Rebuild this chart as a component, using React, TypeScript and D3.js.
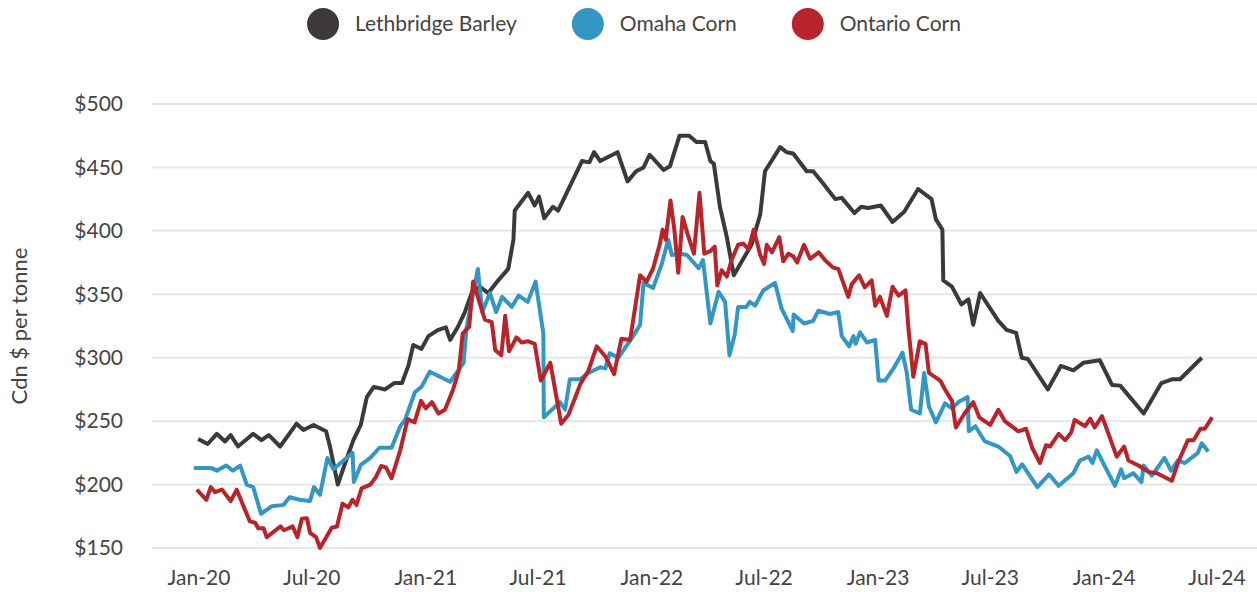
import { scaleLinear, scaleUtc, line, utcMonth, utcFormat } from "d3"

// week offsets from 1 Jan 2020, Cdn $ per tonne
const lethbridgeBarley: [number, number][] = [
  [-0.2, 236], [2.0, 232], [4.1, 240], [6.0, 234], [7.3, 239], [9.0, 230], [12.5, 240],
  [14.4, 235], [16.1, 239], [18.7, 230], [22.5, 248], [24.1, 243], [26.4, 247], [29.3, 242],
  [30.2, 230], [32.0, 200], [33.7, 217], [35.6, 235], [37.3, 247], [38.7, 269], [40.3, 277],
  [42.9, 275], [45.0, 280], [46.8, 280], [48.3, 294], [49.4, 310], [51.3, 307], [52.9, 317],
  [55.2, 322], [56.9, 324], [57.9, 314], [59.8, 325], [61.3, 336], [63.0, 352], [64.7, 356],
  [66.7, 351], [69.0, 361], [71.3, 370], [72.5, 393], [72.8, 416], [75.9, 430], [77.4, 420],
  [78.4, 427], [79.6, 410], [81.6, 419], [82.8, 416], [85.5, 435], [88.3, 455], [90.0, 454],
  [91.1, 462], [92.5, 455], [96.5, 462], [98.8, 439], [100.8, 447], [102.5, 450], [103.9, 460],
  [107.1, 448], [108.6, 451], [110.8, 475], [113.0, 475], [114.7, 470], [116.7, 470],
  [117.9, 455], [118.7, 453], [120.1, 419], [121.7, 395], [123.3, 365], [125.5, 378],
  [127.4, 389], [129.4, 413], [130.5, 447], [134.0, 466], [135.5, 462], [137.0, 461],
  [140.1, 447], [141.6, 447], [144.0, 437], [146.7, 425], [148.2, 426], [151.1, 414],
  [152.7, 419], [154.3, 418], [157.2, 420], [159.9, 407], [162.6, 415], [165.8, 433],
  [168.9, 425], [169.9, 409], [171.4, 401], [171.6, 361], [173.6, 356], [175.8, 342],
  [177.4, 346], [178.5, 326], [180.1, 351], [184.3, 329], [186.2, 322], [188.4, 319.5],
  [189.7, 300], [191.1, 299], [195.7, 275], [198.7, 293.5], [201.6, 290], [203.9, 296],
  [207.7, 298], [210.5, 278.5], [212.4, 278], [217.8, 256], [221.9, 280], [224.3, 283],
  [226.2, 283], [231.2, 300],
]

const omahaCorn: [number, number][] = [
  [-1.2, 213], [2.9, 213], [4.1, 211], [6.3, 215], [7.8, 211], [9.5, 215], [11.0, 200],
  [12.5, 198], [14.3, 177], [16.8, 183], [19.5, 184], [20.9, 190], [23.2, 188], [25.6, 187],
  [26.5, 198], [27.9, 192], [29.6, 221], [31.0, 212], [35.4, 225], [35.7, 202], [37.3, 215.5],
  [39.5, 221], [41.6, 229], [44.4, 229], [46.4, 246], [47.5, 251], [49.8, 273], [51.3, 277],
  [53.2, 289], [57.9, 281], [61.0, 296], [61.7, 324], [64.3, 370], [65.3, 336], [67.1, 351],
  [68.5, 336], [69.9, 348], [72.1, 340], [73.7, 349], [75.8, 344], [77.6, 360], [79.4, 319],
  [79.5, 253], [83.2, 265], [84.4, 259], [85.5, 283], [87.9, 283], [89.8, 288], [92.5, 292.5],
  [93.7, 291.6], [94.7, 303.5], [96.7, 300], [100.1, 317], [101.7, 326], [102.5, 359],
  [104.7, 355], [106.7, 374], [108.2, 393], [109.0, 381], [110.9, 382], [112.5, 381],
  [115.2, 370.5], [116.2, 377], [117.9, 327], [119.8, 352], [121.3, 344], [122.3, 302],
  [123.5, 318], [124.3, 340], [126.2, 340], [127.0, 344], [128.2, 341], [130.1, 353],
  [132.8, 359], [134.3, 339], [136.9, 321], [137.1, 334], [139.5, 327], [141.6, 329],
  [142.8, 337], [145.5, 334.5], [147.4, 336], [148.2, 317], [149.9, 309], [150.9, 317],
  [151.4, 311], [152.4, 320], [154.0, 312], [155.9, 314], [156.7, 282], [158.2, 282],
  [160.4, 293], [162.2, 304], [163.2, 288], [164.2, 259], [166.2, 256], [167.2, 288],
  [168.3, 261.5], [169.9, 249], [172.0, 264], [173.6, 260], [175.1, 265], [177.2, 269],
  [177.5, 242], [179.0, 246], [181.2, 234], [184.3, 230], [187.0, 222.5], [188.5, 210],
  [189.8, 216], [193.3, 198], [196.0, 208], [198.2, 199], [201.6, 209], [203.1, 219],
  [205.1, 222], [206.0, 217], [207.0, 227], [209.3, 211.5], [211.2, 199], [212.6, 212],
  [213.3, 205], [215.4, 209], [217.3, 202], [217.8, 215], [219.7, 207], [222.6, 221],
  [224.1, 211], [225.7, 219], [227.3, 217], [230.3, 225], [231.2, 232.5], [232.7, 226],
]

const ontarioCorn: [number, number][] = [
  [-0.5, 196], [1.7, 188], [2.7, 198], [3.7, 194], [5.3, 196], [7.3, 187], [8.7, 196],
  [11.7, 171], [12.9, 170], [13.7, 165.5], [14.9, 165.5], [15.6, 158.5], [18.8, 167],
  [19.6, 164], [21.6, 167], [22.7, 158.5], [23.7, 173], [24.9, 173.5], [25.6, 162],
  [27.0, 158.5], [27.9, 150], [30.6, 166], [31.8, 167], [33.1, 185], [34.4, 182], [35.4, 188],
  [36.3, 184], [37.5, 197], [39.5, 200], [40.8, 206], [42.0, 214.6], [43.1, 213.6],
  [44.4, 205], [46.4, 227], [48.1, 251.6], [49.7, 249], [51.2, 266], [52.3, 260], [53.7, 265],
  [55.2, 256], [56.7, 259], [58.6, 275], [59.9, 290], [60.8, 319], [62.3, 324.5], [63.2, 360],
  [65.9, 330], [67.5, 328], [68.3, 306], [69.7, 302], [70.6, 333], [71.5, 305], [73.2, 316],
  [74.4, 312], [75.8, 313], [77.4, 311], [78.8, 282], [81.0, 296], [83.5, 248], [85.2, 255],
  [87.9, 279], [89.8, 290], [91.7, 309], [93.7, 301], [95.7, 287], [97.4, 315], [99.4, 314],
  [101.7, 365], [103.2, 360], [104.7, 370.5], [106.2, 389], [106.9, 401], [107.6, 393],
  [108.7, 424], [109.6, 401], [110.5, 367], [111.5, 411], [112.6, 398], [114.1, 382],
  [115.4, 430], [116.5, 382], [117.9, 384], [118.9, 387.5], [119.5, 357], [120.5, 369],
  [121.7, 364], [122.8, 377], [124.3, 389], [125.5, 390], [126.7, 385.5], [127.9, 401],
  [129.4, 381], [130.3, 374], [130.9, 389], [132.1, 383], [133.8, 395], [134.7, 376],
  [135.9, 382], [137.0, 380], [137.9, 375], [139.5, 389], [140.9, 378], [142.9, 383],
  [144.3, 377], [146.2, 371], [147.4, 370], [149.7, 348], [150.5, 358], [152.2, 365],
  [153.5, 355.5], [155.1, 361], [155.9, 341], [157.0, 348], [158.6, 333], [159.9, 356],
  [161.3, 349], [162.9, 353], [163.6, 322], [164.7, 285], [166.2, 313], [167.5, 311],
  [168.3, 288], [170.9, 282], [172.0, 275], [173.6, 266], [174.5, 245], [176.5, 256],
  [178.5, 265], [179.9, 253], [182.4, 247], [184.3, 259], [185.8, 250], [188.9, 242],
  [190.7, 244], [192.1, 229], [193.9, 217], [195.3, 231], [196.2, 230], [198.2, 240],
  [199.7, 235], [201.1, 241], [201.9, 251], [204.3, 246], [205.5, 252], [206.5, 245],
  [208.2, 254], [211.6, 222], [213.3, 230], [214.3, 219], [216.6, 215], [218.9, 210],
  [220.9, 209], [224.3, 203], [225.8, 218], [228.0, 235], [229.3, 235], [230.9, 244],
  [231.9, 244], [233.6, 253],
]

const seriesNames = ["Lethbridge Barley", "Omaha Corn", "Ontario Corn"]
const seriesColors = ["#3d3938", "#3396c5", "#b8242a"]
const seriesData = [lethbridgeBarley, omahaCorn, ontarioCorn]
const yTicks = [150, 200, 250, 300, 350, 400, 450, 500]

const W = 1257
const H = 592
const FONT = "Lato, 'Open Sans', sans-serif"
const FS = 21
const TEXT = "#444"

const START = Date.UTC(2020, 0, 1)
const toDate = (w: number) => new Date(START + w * 7 * 86400000)

function textWidth(s: string) {
  const ctx = document.createElement("canvas").getContext("2d")
  if (!ctx) return s.length * FS * 0.5
  ctx.font = `${FS}px Lato`
  return ctx.measureText(s).width
}

export default function App() {
  const x = scaleUtc()
    .domain([new Date(Date.UTC(2020, 0, 1)), new Date(Date.UTC(2024, 6, 1))])
    .range([199, 1217])
  const y = scaleLinear().domain([150, 500]).range([548, 104])

  const xTicks = utcMonth.every(6)!.range(
    new Date(Date.UTC(2020, 0, 1)),
    new Date(Date.UTC(2024, 6, 2))
  )
  const fmt = utcFormat("%b-%y")

  const path = line<[number, number]>()
    .x((d) => x(toDate(d[0])))
    .y((d) => y(d[1]))

  // legend laid out left to right, centred on the page
  const r = 16
  const widths = seriesNames.map(textWidth)
  const itemW = widths.map((w) => 2 * r + 16 + w)
  const gap = 55
  const total = itemW.reduce((a, b) => a + b, 0) + gap * (itemW.length - 1)
  let cursor = 634 - total / 2
  const legend = seriesNames.map((name, i) => {
    const item = { name, color: seriesColors[i], x: cursor }
    cursor += itemW[i] + gap
    return item
  })

  return (
    <svg
      width={W}
      height={H}
      style={{ position: "absolute", left: 0, top: 0, background: "#fff" }}
      fontFamily={FONT}
    >
      {/* legend */}
      {legend.map((d) => (
        <g key={d.name} transform={`translate(${d.x},24)`}>
          <circle cx={r} cy={0} r={r} fill={d.color} />
          <text x={2 * r + 16} y={0} dy="0.35em" fontSize={FS} fill={TEXT}>
            {d.name}
          </text>
        </g>
      ))}

      {/* grid + y axis */}
      {yTicks.map((t) => (
        <g key={t}>
          <line x1={152} x2={W} y1={y(t)} y2={y(t)} stroke="#e6e6e6" strokeWidth={2} />
          <text x={123} y={y(t)} dy="0.35em" textAnchor="end" fontSize={FS} fill={TEXT}>
            ${t}
          </text>
        </g>
      ))}
      <text
        transform={`translate(19,${y(325)}) rotate(-90)`}
        textAnchor="middle"
        dy="0.35em"
        fontSize={22}
        fill={TEXT}
      >
        Cdn $ per tonne
      </text>

      {/* x axis */}
      {xTicks.map((t) => (
        <text key={+t} x={x(t)} y={578} dy="0.35em" textAnchor="middle" fontSize={FS} fill={TEXT}>
          {fmt(t)}
        </text>
      ))}

      {/* lines */}
      {seriesData.map((s, i) => (
        <path
          key={seriesNames[i]}
          d={path(s) ?? ""}
          fill="none"
          stroke={seriesColors[i]}
          strokeWidth={4}
          strokeLinejoin="round"
        />
      ))}
    </svg>
  )
}
